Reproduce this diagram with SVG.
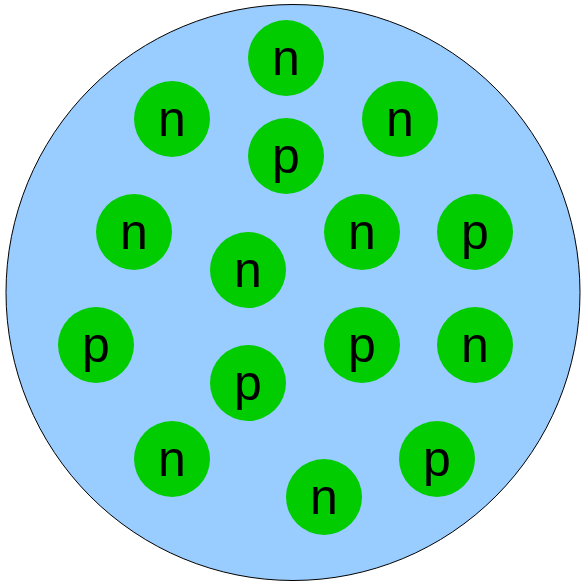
<svg xmlns="http://www.w3.org/2000/svg" width="581" height="583" viewBox="0 0 581 583">
<style>
.nuc{fill:#00cc00}
.lbl{font-family:"Liberation Sans",Arial,sans-serif;font-size:50px;fill:#000;text-anchor:middle}
</style>
<rect width="581" height="583" fill="#fff"/>
<g id="nucleus"><ellipse cx="293" cy="292.5" rx="287" ry="288" fill="#99ccff" stroke="#000" stroke-width="1"/></g>
<g id="n1"><circle class="nuc" cx="286" cy="58" r="38"/><text class="lbl" x="286" y="75">n</text></g>
<g id="n2"><circle class="nuc" cx="172" cy="119" r="38"/><text class="lbl" x="172" y="136">n</text></g>
<g id="p1"><circle class="nuc" cx="286" cy="156" r="38"/><text class="lbl" x="286" y="173">p</text></g>
<g id="n3"><circle class="nuc" cx="400" cy="119" r="38"/><text class="lbl" x="400" y="136">n</text></g>
<g id="n4"><circle class="nuc" cx="134" cy="232" r="38"/><text class="lbl" x="134" y="249">n</text></g>
<g id="n5"><circle class="nuc" cx="248" cy="270" r="38"/><text class="lbl" x="248" y="287">n</text></g>
<g id="n6"><circle class="nuc" cx="362" cy="232" r="38"/><text class="lbl" x="362" y="249">n</text></g>
<g id="p2"><circle class="nuc" cx="475" cy="232" r="38"/><text class="lbl" x="475" y="249">p</text></g>
<g id="p3"><circle class="nuc" cx="96" cy="345" r="38"/><text class="lbl" x="96" y="362">p</text></g>
<g id="p4"><circle class="nuc" cx="248" cy="383" r="38"/><text class="lbl" x="248" y="400">p</text></g>
<g id="p5"><circle class="nuc" cx="362" cy="345" r="38"/><text class="lbl" x="362" y="362">p</text></g>
<g id="n7"><circle class="nuc" cx="475" cy="345" r="38"/><text class="lbl" x="475" y="362">n</text></g>
<g id="n8"><circle class="nuc" cx="172" cy="459" r="38"/><text class="lbl" x="172" y="476">n</text></g>
<g id="n9"><circle class="nuc" cx="324" cy="497" r="38"/><text class="lbl" x="324" y="514">n</text></g>
<g id="p6"><circle class="nuc" cx="437" cy="459" r="38"/><text class="lbl" x="437" y="476">p</text></g>
<g id="connectors"></g>
</svg>
